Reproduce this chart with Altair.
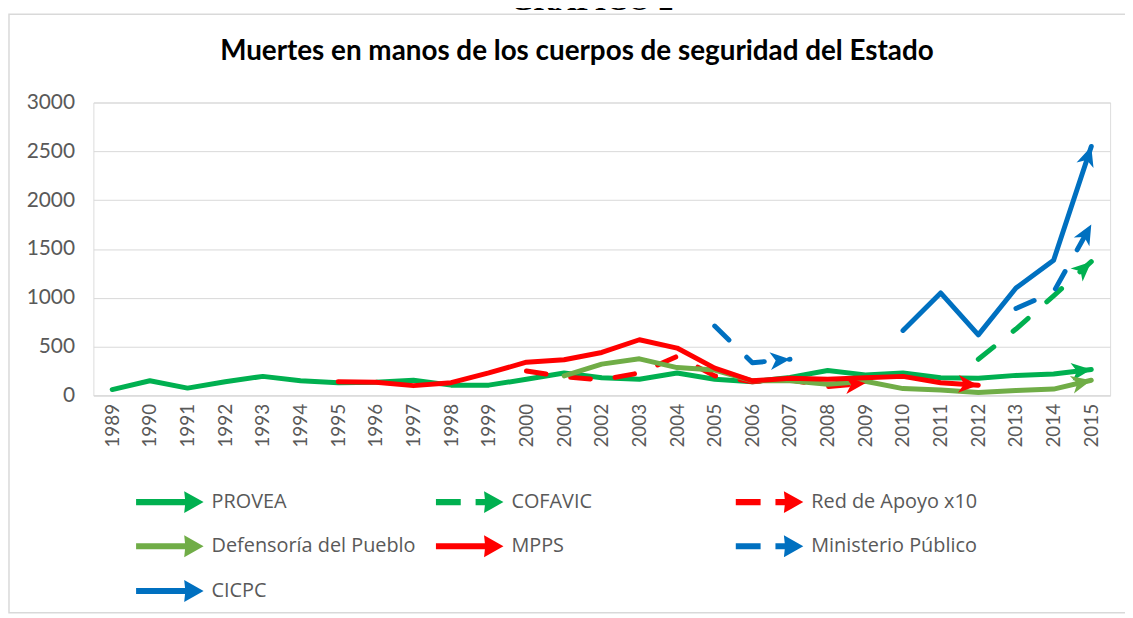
import math
import altair as alt
import pandas as pd

# ---------------- data ----------------
years = list(range(1989, 2016))
series_names = ["PROVEA", "COFAVIC", "Red de Apoyo x10", "Defensoría del Pueblo",
                "MPPS", "Ministerio Público", "CICPC"]
series_colors = ["#00B050", "#00B050", "#FF0000", "#70AD47", "#FF0000", "#0070C0", "#0070C0"]
series_dashed = [False, True, True, False, False, True, False]

provea_years = list(range(1989, 2016))
provea = [60, 150, 75, 140, 195, 150, 130, 135, 155, 105, 105, 165, 230, 180, 165,
          230, 165, 140, 185, 255, 210, 230, 180, 175, 205, 220, 265]
cofavic_years = [2012, 2013, 2014, 2015]
cofavic = [370, 680, 1020, 1370]
red_years = list(range(2000, 2010))
red_apoyo = [250, 190, 160, 230, 400, 200, 140, 160, 90, 125]
defensoria_years = list(range(2001, 2016))
defensoria = [200, 320, 375, 285, 260, 150, 150, 115, 145, 70, 55, 30, 50, 65, 155]
mpps_years = list(range(1995, 2013))
mpps = [140, 135, 100, 130, 230, 340, 365, 440, 570, 485, 280, 150, 175, 165, 180, 195, 130, 105]
mp_years = [2005, 2006, 2007, 2013, 2014, 2015]
mp = [710, 335, 370, 890, 1060, 1750]
cicpc_years = [2010, 2011, 2012, 2013, 2014, 2015]
cicpc = [665, 1050, 620, 1100, 1385, 2550]

y_ticks = [0, 500, 1000, 1500, 2000, 2500, 3000]
title_text = "Muertes en manos de los cuerpos de seguridad del Estado"
header_text = "GRAFICO 2"

series_data = [
    (provea_years, provea), (cofavic_years, cofavic), (red_years, red_apoyo),
    (defensoria_years, defensoria), (mpps_years, mpps), (mp_years, mp), (cicpc_years, cicpc),
]

# ---------------- layout / styles ----------------
W, H = 1024, 295
Y_MAX = 3000
step = W / len(years)
FONT = "Lato"
LEG_FONT = "Open Sans"
GRID = "#D9D9D9"
LABEL = "#595959"
DASH = [20, 25]

rows, heads = [], []
for name, color, (yrs, vals) in zip(series_names, series_colors, series_data):
    seg = 0
    segs = [[]]
    for i, (yr, v) in enumerate(zip(yrs, vals)):
        if i > 0 and yr - yrs[i - 1] > 1:
            seg += 1
            segs.append([])
        segs[-1].append((yr, v))
        rows.append({"series": name, "year": yr, "value": v, "seg": f"{name}-{seg}"})
    for s in segs:
        if len(s) >= 2:
            (y0, v0), (y1, v1) = s[-2], s[-1]
            dx = (y1 - y0) * step
            dy = -(v1 - v0) * H / Y_MAX
            ang = math.degrees(math.atan2(dy, dx)) % 360
            heads.append({"series": name, "year": y1, "value": v1, "color": color, "angle": ang})

df = pd.DataFrame(rows)
heads_df = pd.DataFrame(heads)

x_scale = alt.Scale(type="point", padding=0.5, domain=years)
y_scale = alt.Scale(domain=[0, Y_MAX], nice=False)
x_enc = alt.X("year:O", scale=x_scale,
              axis=alt.Axis(title=None, labelAngle=270, ticks=False, grid=False,
                            domainColor=GRID, labelFont=FONT, labelFontSize=19,
                            labelColor=LABEL, labelPadding=8))
y_enc = alt.Y("value:Q", scale=y_scale,
              axis=alt.Axis(title=None, values=y_ticks, format="d", domain=False, ticks=False,
                            gridColor=GRID, gridWidth=1, labelFont=FONT,
                            labelFontSize=21, labelColor=LABEL, labelPadding=19))

# frame around the whole chart
frame = alt.Chart(pd.DataFrame({"k": [0]})).mark_rect(
    fill="transparent", stroke=GRID, strokeWidth=1.5
).encode(x=alt.value(-85), x2=alt.value(1060), y=alt.value(-89), y2=alt.value(514))

layers = [frame]
for name, color, dashed in zip(series_names, series_colors, series_dashed):
    props = dict(color=color, strokeWidth=5, strokeCap="round", strokeJoin="round")
    if dashed:
        props["strokeDash"] = DASH
    layers.append(
        alt.Chart(df[df["series"] == name]).mark_line(**props).encode(
            x=x_enc, y=y_enc, detail="seg:N")
    )

arrowheads = alt.Chart(heads_df).mark_point(
    shape="M0,0L-2,-0.9L-1.45,0L-2,0.9Z", filled=True, size=400, opacity=1, strokeWidth=0
).encode(
    x=alt.X("year:O", scale=x_scale),
    y=alt.Y("value:Q", scale=y_scale),
    color=alt.Color("color:N", scale=None),
    angle=alt.Angle("angle:Q", scale=None),
)
layers.append(arrowheads)

# legend (symbols: arrow, or dash + arrow for dashed series)
SOLID_SYM = "M-1,-0.18L1.9,-0.18L1.85,-0.65L3,0L1.85,0.65L1.9,0.18L-1,0.18Z"
DASH_SYM = ("M-1,-0.18L0.47,-0.18L0.47,0.18L-1,0.18Z"
            "M1.35,-0.18L1.9,-0.18L1.85,-0.65L3,0L1.85,0.65L1.9,0.18L1.35,0.18Z")
legend_paths = [DASH_SYM if d else SOLID_SYM for d in series_dashed]
legend = alt.Legend(
    title=None, orient="none", legendX=43, legendY=385, direction="horizontal", columns=3,
    gridAlign="all", columnPadding=20, rowPadding=16, symbolSize=1156, symbolStrokeWidth=0,
    labelFont=LEG_FONT, labelFontSize=20, labelColor=LABEL, labelOffset=42, padding=0,
    labelLimit=400,
)
legend_df = pd.DataFrame({"series": series_names, "year": [years[0]] * len(series_names),
                          "value": [None] * len(series_names)})
legend_layer = alt.Chart(legend_df).mark_point(filled=True, opacity=1, strokeWidth=0).encode(
    x=alt.X("year:O", scale=x_scale),
    y=alt.Y("value:Q", scale=y_scale),
    color=alt.Color("series:N", scale=alt.Scale(domain=series_names, range=series_colors),
                    legend=legend),
    shape=alt.Shape("series:N", scale=alt.Scale(domain=series_names, range=legend_paths),
                    legend=legend),
)
layers.append(legend_layer)

title = alt.Chart(pd.DataFrame({"t": [title_text]})).mark_text(
    font=FONT, fontSize=28, fontWeight="bold", baseline="middle", align="center",
    color="#000000"
).encode(text="t:N", x=alt.value(487), y=alt.value(-51))
layers.append(title)

header = alt.Chart(pd.DataFrame({"t": [header_text]})).mark_text(
    font="Liberation Serif", fontSize=30, fontWeight="bold", baseline="alphabetic",
    align="center", color="#000000"
).encode(text="t:N", x=alt.value(502), y=alt.value(-93))
layers.append(header)

chart = alt.layer(*layers).properties(
    width=W, height=H,
    autosize=alt.AutoSizeParams(type="none"),
    padding={"left": 86, "top": 93, "right": 15, "bottom": 222},
).configure_view(stroke=None).configure(background="white")

chart.save("out.html", embed_options={"renderer": "svg", "actions": False})
